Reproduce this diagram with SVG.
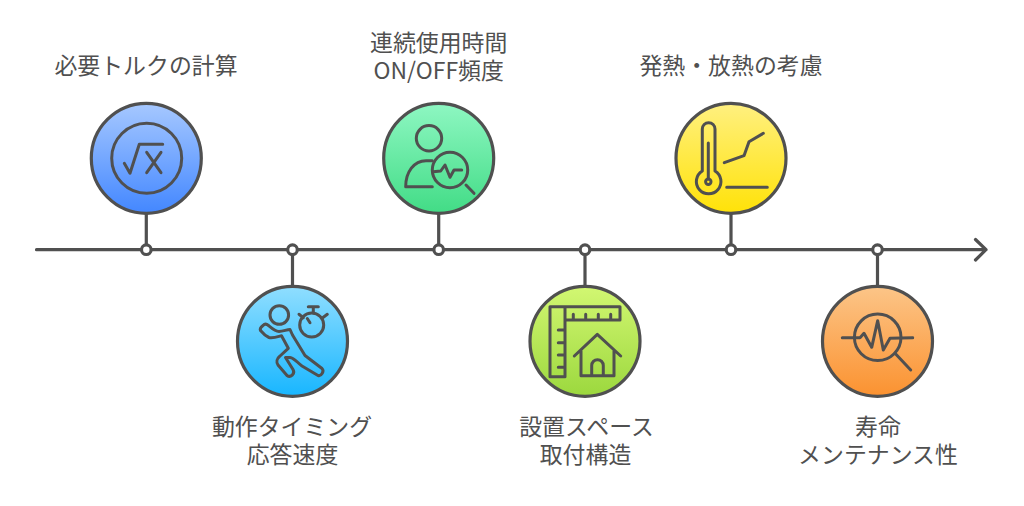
<svg xmlns="http://www.w3.org/2000/svg" width="1024" height="506" viewBox="0 0 1024 506">
<style>
.l{fill:none;stroke:#505050;stroke-width:3.200;stroke-linecap:round;stroke-linejoin:round}
.c{stroke:#505050;stroke-width:3.200}
.i{fill:none;stroke:#505050;stroke-width:3;stroke-linecap:round;stroke-linejoin:round}
.m{fill:#fff;stroke:#505050;stroke-width:3.200}
text{font-family:"Noto Sans CJK JP","Noto Sans",sans-serif;font-size:22.900px;fill:#505050;text-anchor:middle}
</style>
<defs>
<linearGradient id="g1" x1="0" y1="0" x2="0" y2="1"><stop offset="0" stop-color="#a6c8ff"/><stop offset="1" stop-color="#4387ff"/></linearGradient>
<linearGradient id="g2" x1="0" y1="0" x2="0" y2="1"><stop offset="0" stop-color="#90deff"/><stop offset="1" stop-color="#18b6ff"/></linearGradient>
<linearGradient id="g3" x1="0" y1="0" x2="0" y2="1"><stop offset="0" stop-color="#8ef7c2"/><stop offset="1" stop-color="#42dc86"/></linearGradient>
<linearGradient id="g4" x1="0" y1="0" x2="0" y2="1"><stop offset="0" stop-color="#d2f772"/><stop offset="1" stop-color="#9cd83e"/></linearGradient>
<linearGradient id="g5" x1="0" y1="0" x2="0" y2="1"><stop offset="0" stop-color="#fff080"/><stop offset="1" stop-color="#ffe208"/></linearGradient>
<linearGradient id="g6" x1="0" y1="0" x2="0" y2="1"><stop offset="0" stop-color="#fcc588"/><stop offset="1" stop-color="#fb9230"/></linearGradient>
</defs>
<g id="connectors">
<path class="l" d="M36.500 249.700H986M975.500 239.500L986 249.700L975.500 260"/>
<path class="l" d="M146.300 214V249.700M292.500 249.700V285M438.700 214V249.700M585 249.700V285M731 214V249.700M877.500 249.700V285"/>
</g>
<g id="node1">
<circle class="m" cx="146.300" cy="249.700" r="4.800"/>
<circle class="c" cx="146.300" cy="158.300" r="55" fill="url(#g1)"/>
<circle class="i" cx="146.700" cy="158.300" r="35"/>
<path class="i" d="M124.300 163.300L130 173.300L139.300 144.300H162.700M146.700 152.300L161 172.700M161 152.300L146.700 172.700"/>
<text x="146" y="73.500">必要トルクの計算</text>
</g>
<g id="node2">
<circle class="m" cx="292.500" cy="249.700" r="4.800"/>
<circle class="c" cx="292.500" cy="341.300" r="55" fill="url(#g2)"/>
<circle class="i" cx="279.300" cy="315" r="9.300"/>
<circle class="i" cx="311.700" cy="325" r="12"/>
<path class="i" d="M308.300 306.700H318.300M313.300 306.700V312.700M299 314.300L303.300 317.700M327.300 314.300L322.700 317.700M310 322.700L307.300 318.500"/>
<path class="i" d="M263 325.500C264.500 323.800 266.500 323.800 268.500 325.500C272 328.500 275 331.500 279 331.500C283 331.500 287 329.500 290 329.500L292.500 335L305 355.500L322 368.500C324.500 371 321.500 376.500 318 375.500L302 366C297 362.500 294.500 358 290 357.500H285.500L293 369.500C295.500 374 290.500 378 287 375.500L278 365C276 362 277 358.500 279.500 356.500L288.300 348.300L281.500 335.700C277.500 336.800 272.500 338.500 269 337.500C265.500 336 263 333.500 260.500 330.500C259.500 328.500 261 327 263 325.500Z"/>
<text x="292" y="435">動作タイミング</text>
<text x="292.500" y="463">応答速度</text>
</g>
<g id="node3">
<circle class="m" cx="438.700" cy="249.700" r="4.800"/>
<circle class="c" cx="438.700" cy="158.300" r="55" fill="url(#g3)"/>
<circle class="i" cx="429" cy="138.300" r="12.700"/>
<path class="i" d="M432.300 160.700H426C414 160.700 405.700 172 405.700 186.700H432.300"/>
<circle class="i" cx="450" cy="170" r="17.700"/>
<path class="i" d="M466 185L474 193.300M433.300 171.700L440.700 171L445 165L450 177.300L454 170H461.700"/>
<text x="438.700" y="51">連続使用時間</text>
<text x="438.700" y="79">ON/OFF頻度</text>
</g>
<g id="node4">
<circle class="m" cx="585" cy="249.700" r="4.800"/>
<circle class="c" cx="585" cy="341.300" r="55" fill="url(#g4)"/>
<path class="i" d="M550 306.700H620V320H565V376.700H550ZM565 306.700V320M573.300 314.300V320M585.700 314.300V320M598.300 314.300V320M610.700 314.300V320M558.300 330H565M558.300 342.700H565M558.300 355H565M558.300 367.300H565"/>
<path class="i" d="M574.300 356L597.300 334.300L620.700 356M581 351V375.700H614V351M591.700 375.700V365.500A5.800 5.800 0 0 1 603.300 365.500V375.700"/>
<text x="586.500" y="435">設置スペース</text>
<text x="585.500" y="463">取付構造</text>
</g>
<g id="node5">
<circle class="m" cx="731" cy="249.700" r="4.800"/>
<circle class="c" cx="731" cy="158.300" r="55" fill="url(#g5)"/>
<path class="i" d="M702.300 171V129A6.300 6.300 0 0 1 715 129V171A12.300 12.300 0 1 1 702.300 171Z"/>
<path class="i" d="M708.300 143V179"/>
<circle class="i" cx="708.300" cy="181.700" r="2.700"/>
<path class="i" d="M724.300 162.700L744 155.700L749 141.700L763.300 133.300M726.700 187.300H767.300"/>
<text x="731" y="73.500">発熱・放熱の考慮</text>
</g>
<g id="node6">
<circle class="m" cx="877.500" cy="249.700" r="4.800"/>
<circle class="c" cx="877.500" cy="341.300" r="55" fill="url(#g6)"/>
<circle class="i" cx="877.700" cy="337.300" r="23.300"/>
<path class="i" d="M895 353.300L910.700 370M842.300 337.700H860L864 333.300L871.700 347.300L877.700 320.700L883.300 350L890 338.300L912.700 337.700"/>
<text x="878" y="435">寿命</text>
<text x="878" y="463">メンテナンス性</text>
</g>
</svg>
